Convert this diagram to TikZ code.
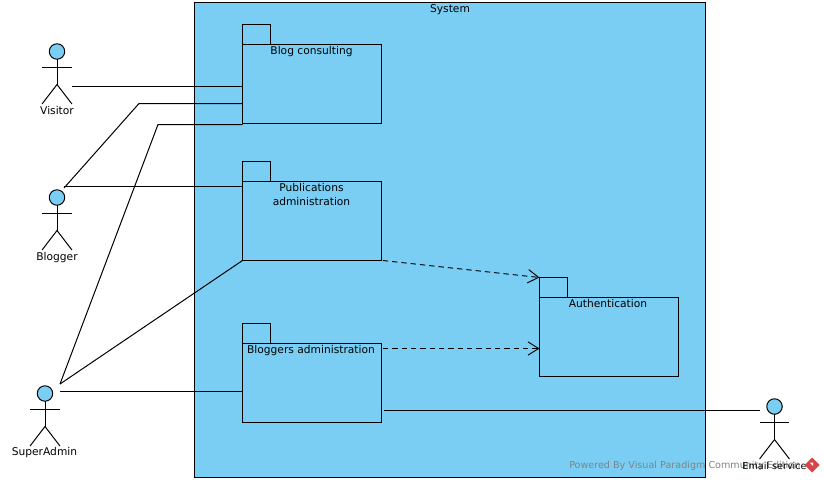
\documentclass[tikz,border=0pt]{standalone}
\usepackage{fontspec}
\setmainfont{DejaVu Sans}
\usetikzlibrary{arrows.meta}
\definecolor{sysblue}{HTML}{7ACEF4}
\definecolor{wmgray}{HTML}{7C8487}
\definecolor{vpred}{HTML}{D8444A}
\tikzset{
  lineblk/.style={draw=black,line width=0.75pt},
  sysbox/.style={lineblk,fill=sysblue,anchor=north west,inner sep=0pt,outer sep=0pt,minimum width=383.25pt,minimum height=356.25pt},
  pkgbody/.style={lineblk,anchor=north west,inner sep=0pt,outer sep=0pt,minimum width=104.25pt,minimum height=59.25pt},
  pkgtab/.style={lineblk,anchor=south west,inner sep=0pt,outer sep=0pt,minimum width=21pt,minimum height=15pt},
  txt/.style={font=\fontsize{8}{10.6}\selectfont,inner sep=0pt,text=black,align=center},
  head/.style={lineblk,fill=sysblue,circle,inner sep=0pt,outer sep=0pt,minimum size=11.6pt},
  assoc/.style={draw=black,line width=0.75pt},
  dep/.style={draw=black,line width=0.7pt,dash pattern=on 4pt off 3pt,-{Straight Barb[length=8pt,width=10pt,line width=0.7pt]}},
  wm/.style={font=\fontsize{7.2}{10}\selectfont,inner sep=0pt,text=wmgray,anchor=west}
}
\newcommand{\stickman}[3]{% name, x, y of head centre
  \node[head] (#1) at (#2,#3) {};
  \coordinate (#1neck) at (#2,#3+16);
  \coordinate (#1waist) at (#2,#3+33);
  \draw[lineblk] (#1.south) -- (#1waist);
  \draw[lineblk] ([xshift=-11.2pt]#1neck) -- ([xshift=11.2pt]#1neck);
  \draw[lineblk] ([xshift=-11.2pt,yshift=-14.6pt]#1waist) -- (#1waist) -- ([xshift=11.2pt,yshift=-14.6pt]#1waist);
}
\begin{document}
\begin{tikzpicture}[x=0.75pt,y=-0.75pt]
\useasboundingbox (0,0) rectangle (824,482);
\node[sysbox] (system) at (194.5,2.5) {};
\node[txt] (systemlabel) at (450,9.5) {System};

% packages
\node[pkgbody] (blog) at (242.5,44.5) {};
\node[pkgtab] (blogtab) at (blog.north west) {};
\node[txt,anchor=north] (bloglabel) at (311.5,46.5) {Blog consulting};

\node[pkgbody] (pub) at (242.5,181.5) {};
\node[pkgtab] (pubtab) at (pub.north west) {};
\node[txt,anchor=north] (publabel) at (311.5,183) {Publications\\administration};

\node[pkgbody] (blg) at (242.5,343.5) {};
\node[pkgtab] (blgtab) at (blg.north west) {};
\node[txt,anchor=north] (blglabel) at (311,345) {Bloggers administration};

\node[pkgbody] (auth) at (539.5,297.5) {};
\node[pkgtab] (authtab) at (auth.north west) {};
\node[txt,anchor=north] (authlabel) at (608,299) {Authentication};

% actors
\stickman{visitor}{57}{51.5}
\node[txt] (visitorlabel) at (57,110.5) {Visitor};
\stickman{blogger}{57}{197.5}
\node[txt] (bloggerlabel) at (57,257.5) {Blogger};
\stickman{admin}{45}{393.5}
\node[txt] (adminlabel) at (44.5,452.5) {SuperAdmin};
\stickman{email}{774.5}{406.5}

% free ends
\coordinate (v1) at (72,86.5);
\coordinate (b1) at (64,188);
\coordinate (b1k) at (139,103.5);
\coordinate (b2) at (64,186.5);
\coordinate (a1) at (60,384);
\coordinate (a1k) at (158,124.5);
\coordinate (a2) at (60,391.5);
\coordinate (e1) at (760,410.5);

\draw[assoc] (v1) -- (v1 -| blog.west);
\draw[assoc] (b1) -- (b1k) -- (b1k -| blog.west);
\draw[assoc] (a1) -- (a1k) -- (a1k -| blog.west);
\draw[assoc] (b2) -- (b2 -| pub.west);
\draw[assoc] (a1) -- (pub.south west);
\draw[assoc] (a2) -- (a2 -| blg.west);
\draw[assoc] ([xshift=1.5pt]e1 -| blg.east) -- (e1);

\draw[dep] ([xshift=1pt]pub.south east) -- (auth.north west |- authtab.north);
\coordinate (d2) at (383,348.5);
\draw[dep] (d2) -- (d2 -| auth.west);

% watermark and email label
\node[wm] (wmtext) at (569,465.5) {Powered By Visual Paradigm Community Edition};
\node[txt,font=\fontsize{7.2}{10}\selectfont] (emaillabel) at (774.5,465.5) {Email service};
\fill[vpred] (812,457.5) -- (819.5,465) -- (812,472.5) -- (804.5,465) -- cycle;
\fill[white] (809.5,462.5) -- (813,462.5) -- (813,466) -- cycle;
\end{tikzpicture}
\end{document}
